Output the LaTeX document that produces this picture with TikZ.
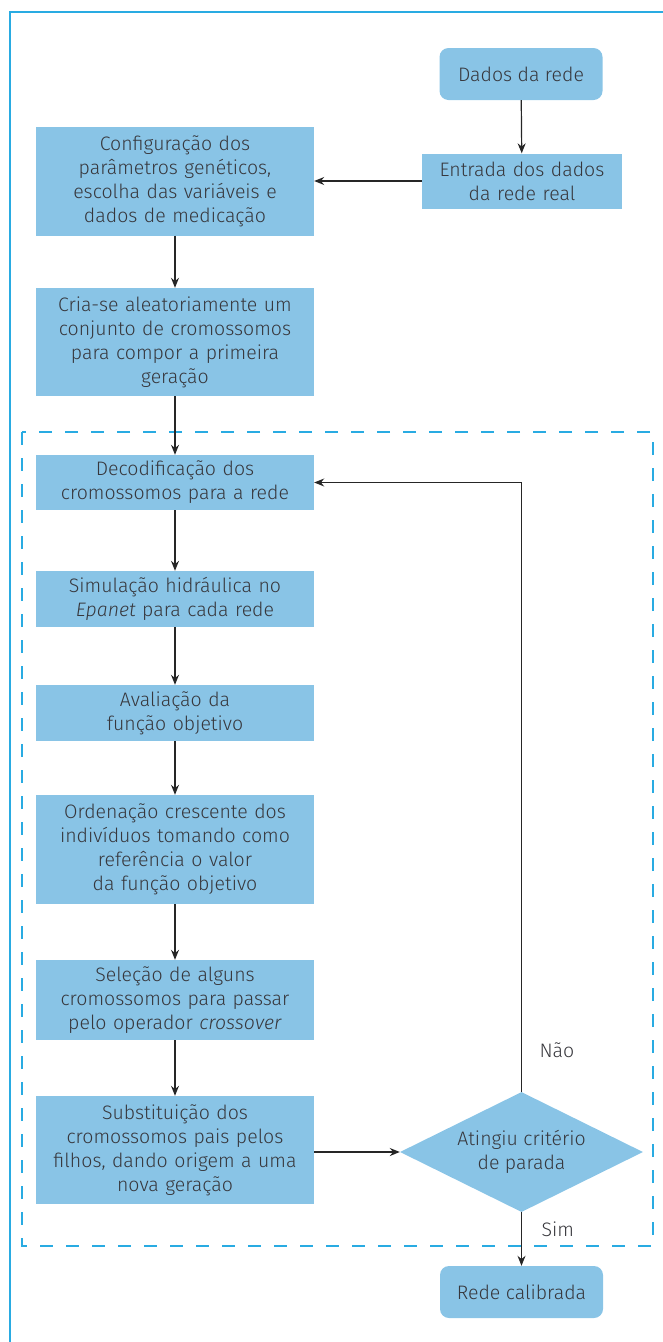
\documentclass[tikz,border=0pt]{standalone}
\usepackage{fontspec}
\setmainfont{Fira Sans}[UprightFont={* Light},ItalicFont={* Light Italic}]
\usetikzlibrary{shapes.geometric,arrows.meta}
\definecolor{boxblue}{RGB}{137,196,230}
\definecolor{framecyan}{RGB}{41,171,226}
\definecolor{txt}{RGB}{55,55,60}
\tikzset{
  every node/.style={text=txt,font=\fontsize{19.5}{24}\selectfont},
  procbox/.style={fill=boxblue,draw=none,minimum width=278pt,text width=270pt,align=center,inner sep=0pt},
  termbox/.style={fill=boxblue,draw=none,rounded corners=9pt,minimum width=163pt,minimum height=52pt,align=center,inner sep=0pt},
  decision/.style={diamond,fill=boxblue,draw=none,aspect=2.03,minimum width=243pt,minimum height=120pt,inner sep=0pt,align=center},
  conn/.style={draw=black!85,line width=1.2pt,-{Stealth[length=10pt,width=8pt]}},
  lbl/.style={text=txt}
}
\begin{document}
\begin{tikzpicture}[x=1pt,y=-1pt]
\useasboundingbox (0,0) rectangle (663,1342);
% frame
\draw[framecyan,line width=2pt] (10,1342) -- (10,12) -- (663,12);
% dashed region
\draw[framecyan,line width=1.6pt,dash pattern=on 13pt off 13pt] (22,432) rectangle (653,1246);
% nodes
\node[termbox] (dados) at (521,74) {Dados da rede};
\node[procbox,minimum width=200pt,text width=196pt,minimum height=55pt] (entrada) at (522,181) {Entrada dos dados\\da rede real};
\node[procbox,minimum height=109pt] (config) at (175,181) {Configuração dos\\parâmetros genéticos,\\escolha das variáveis e\\dados de medicação};
\node[procbox,minimum height=108pt] (cria) at (175,342) {Cria-se aleatoriamente um\\conjunto de cromossomos\\para compor a primeira\\geração};
\node[procbox,minimum height=55pt] (decod) at (175,482.5) {Decodificação dos\\cromossomos para a rede};
\node[procbox,minimum height=56pt] (simul) at (175,599) {Simulação hidráulica no\\\textit{Epanet} para cada rede};
\node[procbox,minimum height=56pt] (aval) at (175,713) {Avaliação da\\função objetivo};
\node[procbox,minimum height=109pt] (orden) at (175,849.5) {Ordenação crescente dos\\indivíduos tomando como\\referência o valor\\da função objetivo};
\node[procbox,minimum height=80pt] (selec) at (175,1000) {Seleção de alguns\\cromossomos para passar\\pelo operador \textit{crossover}};
\node[procbox,minimum height=108pt] (subst) at (175,1150) {Substituição dos\\cromossomos pais pelos\\filhos, dando origem a uma\\nova geração};
\node[decision] (crit) at (521.5,1152) {Atingiu critério\\de parada};
\node[termbox] (calib) at (521.5,1292) {Rede calibrada};
\coordinate (loopc) at (crit.north |- decod.east);
% connectors
\draw[conn] (dados) -- (entrada);
\draw[conn] (entrada.west) -- (entrada.west -| config.east);
\draw[conn] (config) -- (cria);
\draw[conn] (cria) -- (decod);
\draw[conn] (decod) -- (simul);
\draw[conn] (simul) -- (aval);
\draw[conn] (aval) -- (orden);
\draw[conn] (orden) -- (selec);
\draw[conn] (selec) -- (subst);
\draw[conn] (crit.west -| subst.east) -- (crit.west);
\draw[conn] (crit.north) -- (loopc) -- (decod.east);
\draw[conn] (crit.south) -- (calib.north);
\node[lbl,anchor=west] (nao) at (536,1050) {Não};
\node[lbl,anchor=west] (sim) at (538,1229) {Sim};
\end{tikzpicture}
\end{document}
